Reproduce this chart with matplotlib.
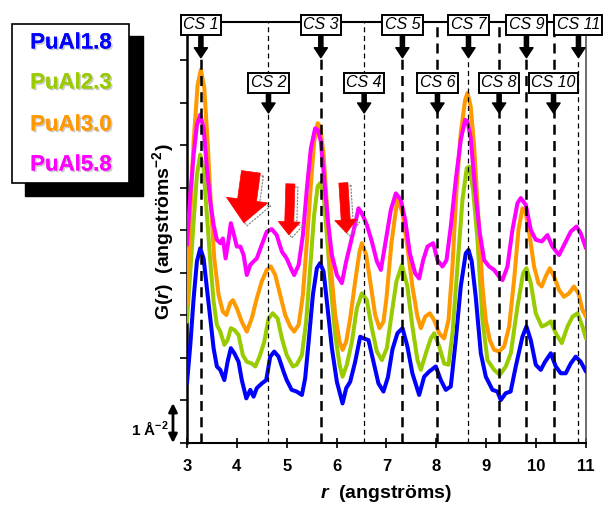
import matplotlib
matplotlib.use("Agg")
import matplotlib.pyplot as plt
import matplotlib.patheffects as pe
import matplotlib.transforms as mtransforms
from matplotlib.patches import Rectangle, FancyArrowPatch

plt.rcParams["font.family"] = ["Liberation Sans", "DejaVu Sans"]
plt.rcParams["mathtext.fontset"] = "custom"
plt.rcParams["mathtext.rm"] = "Liberation Sans:bold"
plt.rcParams["mathtext.bf"] = "Liberation Sans:bold"
plt.rcParams["mathtext.it"] = "Liberation Sans:italic:bold"

# series (offset curves, G in angstrom^-2)
names = ["PuAl1.8", "PuAl2.3", "PuAl3.0", "PuAl5.8"]
colors = ["#0000FF", "#99CC00", "#FF9900", "#FF00FF"]

r_18 = [3.0, 3.067, 3.134, 3.2, 3.267, 3.334, 3.4, 3.468, 3.534, 3.6,
        3.668, 3.75, 3.815, 3.88, 3.95, 4.035, 4.1, 4.19, 4.27, 4.336,
        4.4, 4.5, 4.59, 4.67, 4.75, 4.837, 4.937, 5.0, 5.1, 5.2,
        5.305, 5.37, 5.44, 5.525, 5.605, 5.67, 5.74, 5.82, 5.906, 6.006,
        6.12, 6.193, 6.273, 6.373, 6.474, 6.54, 6.64, 6.74, 6.84, 6.94,
        7.03, 7.12, 7.22, 7.322, 7.42, 7.52, 7.656, 7.756, 7.856, 7.99,
        8.09, 8.19, 8.29, 8.39, 8.49, 8.59, 8.645, 8.71, 8.79, 8.892,
        8.992, 9.126, 9.226, 9.293, 9.39, 9.49, 9.593, 9.727, 9.807, 9.894,
        9.994, 10.094, 10.18, 10.295, 10.395, 10.495, 10.595, 10.695, 10.795, 10.896,
        11.0]
g_18 = [1.40, 2.30, 3.40, 4.27, 4.58, 4.34, 3.64, 2.93, 2.23, 1.80,
        1.72, 1.48, 1.91, 2.23, 2.11, 1.91, 1.48, 1.05, 1.25, 1.09,
        1.29, 1.40, 1.48, 2.03, 2.15, 2.03, 1.68, 1.48, 1.25, 1.21,
        1.13, 1.52, 2.38, 3.48, 4.11, 4.23, 4.03, 3.17, 2.23, 1.44,
        0.93, 1.29, 1.44, 1.91, 2.50, 2.46, 2.42, 1.91, 1.40, 1.21,
        1.55, 2.20, 2.58, 2.70, 2.27, 1.64, 1.13, 1.56, 1.68, 1.80,
        1.48, 1.25, 1.33, 2.42, 3.68, 4.46, 4.54, 4.27, 3.44, 2.11,
        1.56, 1.25, 1.21, 1.01, 1.17, 1.21, 1.80, 2.50, 2.74, 2.42,
        1.84, 1.72, 1.91, 2.11, 1.80, 1.64, 1.64, 1.87, 2.03, 1.91,
        1.68]

r_23 = [3.0, 3.067, 3.134, 3.2, 3.267, 3.334, 3.4, 3.468, 3.534, 3.6,
        3.668, 3.75, 3.815, 3.88, 3.95, 4.035, 4.12, 4.2, 4.3, 4.37,
        4.456, 4.55, 4.637, 4.72, 4.817, 4.904, 5.0, 5.124, 5.2, 5.305,
        5.39, 5.47, 5.55, 5.62, 5.67, 5.74, 5.806, 5.886, 5.973, 6.06,
        6.12, 6.206, 6.307, 6.407, 6.507, 6.607, 6.707, 6.808, 6.908, 7.008,
        7.1, 7.2, 7.31, 7.42, 7.52, 7.622, 7.69, 7.79, 7.89, 7.957,
        8.057, 8.157, 8.244, 8.324, 8.424, 8.524, 8.61, 8.658, 8.738, 8.825,
        8.925, 9.025, 9.16, 9.272, 9.393, 9.493, 9.627, 9.74, 9.807, 9.894,
        9.994, 10.114, 10.194, 10.295, 10.395, 10.515, 10.63, 10.73, 10.83, 10.93,
        11.0]
g_23 = [2.85, 4.03, 5.21, 6.31, 6.78, 6.46, 5.36, 4.27, 3.33, 2.78,
        2.62, 2.31, 2.42, 2.70, 2.66, 2.54, 2.07, 1.91, 1.87, 1.80,
        2.03, 2.38, 2.93, 3.05, 2.93, 2.46, 2.07, 1.80, 1.84, 2.07,
        2.85, 4.11, 5.36, 6.03, 6.11, 5.84, 4.89, 3.64, 2.54, 1.84,
        1.56, 1.84, 2.38, 3.17, 3.52, 3.36, 2.70, 2.15, 1.95, 2.23,
        3.0, 3.8, 4.19, 3.68, 2.74, 1.95, 1.72, 2.11, 2.46, 2.58,
        2.27, 1.87, 1.84, 2.58, 4.15, 5.72, 6.46, 6.50, 5.95, 4.78,
        2.89, 1.95, 1.72, 1.60, 1.80, 2.11, 3.21, 3.99, 4.11, 3.76,
        3.05, 2.74, 2.78, 2.86, 2.58, 2.35, 2.74, 2.97, 3.05, 2.74,
        2.46]

r_30 = [3.0, 3.067, 3.134, 3.214, 3.28, 3.347, 3.414, 3.48, 3.548, 3.635,
        3.72, 3.79, 3.868, 3.92, 4.0, 4.1, 4.2, 4.3, 4.4, 4.5,
        4.6, 4.683, 4.77, 4.87, 4.97, 5.07, 5.15, 5.24, 5.325, 5.405,
        5.485, 5.55, 5.62, 5.67, 5.74, 5.806, 5.886, 5.973, 6.06, 6.12,
        6.193, 6.273, 6.373, 6.46, 6.507, 6.594, 6.674, 6.774, 6.86, 6.94,
        7.0, 7.1, 7.222, 7.322, 7.42, 7.52, 7.622, 7.69, 7.776, 7.87,
        7.957, 8.057, 8.157, 8.244, 8.324, 8.404, 8.49, 8.578, 8.625, 8.69,
        8.758, 8.845, 8.925, 8.992, 9.072, 9.16, 9.259, 9.36, 9.46, 9.56,
        9.647, 9.727, 9.794, 9.874, 9.96, 10.047, 10.114, 10.194, 10.275, 10.36,
        10.46, 10.56, 10.66, 10.76, 10.85, 10.93, 11.0]
g_30 = [3.25, 5.36, 7.09, 8.42, 8.78, 8.35, 7.09, 5.60, 4.34, 3.48,
        3.09, 3.01, 3.29, 3.36, 3.17, 2.85, 2.62, 2.93, 3.40, 3.80,
        4.07, 4.15, 3.95, 3.48, 3.01, 2.74, 2.62, 2.78, 3.48, 4.74,
        6.07, 7.09, 7.52, 7.44, 6.78, 5.60, 4.11, 3.01, 2.38, 2.19,
        2.38, 2.93, 3.80, 4.50, 4.70, 4.42, 3.80, 3.01, 2.70, 2.85,
        3.4, 4.7, 5.76, 5.40, 4.62, 3.68, 2.97, 2.70, 2.97, 3.05,
        2.89, 2.58, 2.46, 2.89, 4.15, 5.95, 7.29, 8.07, 8.23, 7.91,
        6.97, 5.25, 3.68, 2.89, 2.42, 2.19, 2.15, 2.27, 2.74, 3.84,
        5.01, 5.52, 5.40, 4.85, 4.15, 3.76, 3.68, 3.92, 4.11, 3.92,
        3.60, 3.44, 3.52, 3.68, 3.52, 3.13, 2.97]

r_58 = [3.0, 3.067, 3.134, 3.2, 3.267, 3.334, 3.4, 3.468, 3.534, 3.6,
        3.668, 3.72, 3.775, 3.83, 3.88, 3.935, 4.0, 4.07, 4.136, 4.2,
        4.27, 4.336, 4.4, 4.5, 4.6, 4.7, 4.8, 4.904, 5.0, 5.084,
        5.15, 5.24, 5.325, 5.405, 5.485, 5.57, 5.625, 5.685, 5.75, 5.82,
        5.906, 6.006, 6.106, 6.193, 6.273, 6.353, 6.44, 6.507, 6.607, 6.707,
        6.808, 6.888, 6.975, 7.088, 7.188, 7.288, 7.375, 7.469, 7.576, 7.656,
        7.736, 7.823, 7.937, 8.023, 8.124, 8.204, 8.29, 8.39, 8.49, 8.578,
        8.625, 8.69, 8.778, 8.872, 8.959, 9.06, 9.16, 9.259, 9.326, 9.426,
        9.526, 9.627, 9.693, 9.794, 9.894, 9.994, 10.114, 10.228, 10.328, 10.46,
        10.58, 10.695, 10.81, 10.896, 11.0]
g_58 = [4.66, 5.84, 6.78, 7.48, 7.72, 7.40, 6.46, 5.68, 5.13, 4.78,
        4.70, 4.81, 4.34, 4.74, 5.17, 4.93, 4.62, 4.62, 4.42, 3.95,
        4.19, 4.27, 4.34, 4.66, 4.97, 5.03, 4.89, 4.50, 4.34, 4.11,
        3.95, 4.19, 4.89, 5.99, 6.93, 7.40, 7.36, 7.09, 6.23, 5.29,
        4.42, 3.95, 3.76, 4.27, 4.66, 5.05, 5.52, 5.40, 5.13, 4.74,
        4.27, 4.07, 4.68, 5.48, 5.87, 5.72, 5.25, 4.46, 3.99, 3.87,
        4.30, 4.62, 4.70, 4.30, 4.15, 4.30, 5.09, 6.19, 7.13, 7.60,
        7.56, 7.17, 5.95, 4.93, 4.30, 4.15, 4.07, 3.91, 3.83, 4.15,
        5.01, 5.64, 5.76, 5.60, 5.01, 4.78, 4.74, 4.89, 4.62, 4.42,
        4.70, 4.97, 5.09, 4.93, 4.58]

# coordination shells
cs_labels = ["CS 1", "CS 2", "CS 3", "CS 4", "CS 5", "CS 6",
             "CS 7", "CS 8", "CS 9", "CS 10", "CS 11"]
cs_pos = [3.28, 4.635, 5.685, 6.553, 7.32, 8.023, 8.645, 9.259, 9.807, 10.35, 10.85]
cs_heavy = [True, False, True, False, True, True, False, True, True, True, False]

# red highlight arrows (tail, tip) and size
red_tail = [(4.283, 6.376), (5.074, 6.094), (6.136, 6.118)]
red_tip = [(4.142, 5.176), (5.044, 4.894), (6.20, 4.94)]
red_big = [True, False, False]

fig = plt.figure(figsize=(6.05, 5.07), dpi=100)
ax = fig.add_axes([0.309, 0.1262, 0.6595, 0.8304])

series = [(r_18, g_18), (r_23, g_23), (r_30, g_30), (r_58, g_58)]
for (r, g), c in zip(series, colors):
    ax.plot(r, g, color=c, lw=2.9, solid_joinstyle="round", solid_capstyle="round", zorder=3)

top = 9.9
ax.set_xlim(3, 11)
ax.set_ylim(0, top)

# dashed shell lines
for i, (x, heavy) in enumerate(zip(cs_pos, cs_heavy)):
    y1 = 9.06 if i % 2 == 0 else top
    if heavy:
        ax.plot([x, x], [0, y1], color="black", lw=1.8, ls=(0, (4, 2.5)), zorder=4, clip_on=False)
    else:
        ax.plot([x, x], [0, y1], color="black", lw=0.9, ls=(0, (4, 3)), zorder=4, clip_on=False)

# labelled boxes with arrows
for i, (x, lab) in enumerate(zip(cs_pos, cs_labels)):
    upper = i % 2 == 0
    ybox = 9.835 if upper else 8.47
    ytip = 9.06 if upper else 7.76
    ax.annotate(lab, xy=(x, ytip), xytext=(x, ybox), ha="center", va="center",
                fontsize=11.5, fontstyle="italic", zorder=7, annotation_clip=False,
                bbox=dict(boxstyle="square,pad=0.15", fc="white", ec="black", lw=1.4),
                arrowprops=dict(arrowstyle="simple,head_length=0.72,head_width=0.95,tail_width=0.3",
                                fc="black", ec="black", mutation_scale=10, shrinkA=0, shrinkB=0))

# red arrows with dotted shadow
shadow_off = mtransforms.offset_copy(ax.transData, fig=fig, x=3, y=-3, units="dots")
for (t, h, big) in zip(red_tail, red_tip, red_big):
    if big:
        style = "simple,head_length=1.66,head_width=3.0,tail_width=1.37"
    else:
        style = "simple,head_length=0.94,head_width=1.58,tail_width=0.65"
    sh = FancyArrowPatch(t, h, arrowstyle=style, mutation_scale=10, fill=False,
                         ec="#888888", lw=0.9, ls=":", shrinkA=0, shrinkB=0,
                         transform=shadow_off, zorder=5)
    ax.add_patch(sh)
    ar = FancyArrowPatch(t, h, arrowstyle=style, mutation_scale=10, fc="#FF0000",
                         ec="#FF0000", lw=0.5, shrinkA=0, shrinkB=0, zorder=6)
    ax.add_patch(ar)

# axes styling
ax.set_xticks(range(3, 12))
ax.set_yticks(range(0, 10))
ax.set_yticklabels([])
ax.tick_params(axis="x", direction="inout", length=7, width=1.2, labelsize=12, pad=8)
ax.tick_params(axis="y", direction="out", length=5, width=1.2)
for lbl in ax.get_xticklabels():
    lbl.set_fontweight("bold")
ax.spines["left"].set_linewidth(1.8)
ax.spines["bottom"].set_linewidth(1.5)
ax.spines["top"].set_linewidth(1.5)
ax.spines["right"].set_linewidth(1.2)
ax.spines["right"].set_color("#555555")

fig.text(386 / 605, 1 - 493 / 507, r"$\mathit{r}$  (angströms)", ha="center", va="center",
         fontsize=14, fontweight="bold")
fig.text(163 / 605, 1 - 232 / 507, r"G($\mathit{r}$)  (angström$\mathbf{s}^{\mathbf{-2}}$)",
         ha="center", va="center", rotation=90, fontsize=14, fontweight="bold")

# scale bar
ax.annotate("", xy=(2.72, 0.0), xytext=(2.72, 0.94), annotation_clip=False,
            arrowprops=dict(arrowstyle="<|-|>,head_length=0.5,head_width=0.25", lw=2,
                            color="black", mutation_scale=10, shrinkA=0, shrinkB=0))
ax.text(2.63, 0.32, r"1 $\mathbf{Å}^{\mathbf{-2}}$", ha="right", va="center",
        fontsize=11, fontweight="bold", clip_on=False)

# legend box with drop shadow
fig.add_artist(Rectangle((25 / 605, 1 - 196 / 507), 118 / 605, 160 / 507,
                         transform=fig.transFigure, fc="black", ec="black", zorder=1))
fig.add_artist(Rectangle((12 / 605, 1 - 183 / 507), 117 / 605, 159 / 507,
                         transform=fig.transFigure, fc="white", ec="black", lw=1.2, zorder=2))
leg_y = [43, 83, 125, 165]
for name, c, py in zip(names, colors, leg_y):
    fig.text(71 / 605, 1 - py / 507, name, ha="center", va="center", fontsize=16,
             fontweight="bold", color=c, zorder=3,
             path_effects=[pe.withSimplePatchShadow(offset=(1.2, -1.2), shadow_rgbFace="#999999", alpha=0.5),
                           pe.Normal()])

fig.savefig("out.png", dpi=100)
